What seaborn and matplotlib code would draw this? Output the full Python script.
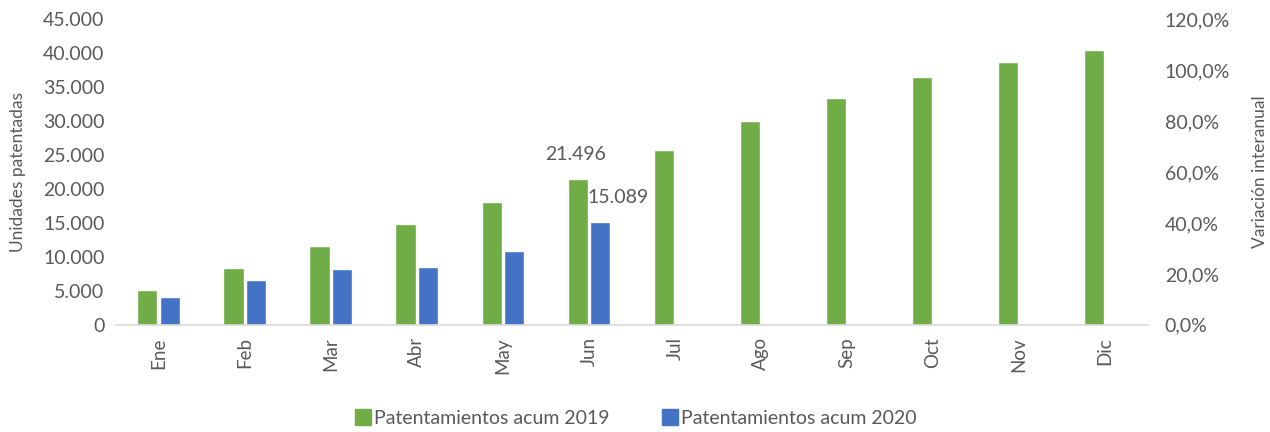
import matplotlib

matplotlib.use("Agg")

import matplotlib.pyplot as plt
import numpy as np
import pandas as pd
import seaborn as sns
from matplotlib.lines import Line2D
from matplotlib.ticker import FuncFormatter

MESES = ["Ene", "Feb", "Mar", "Abr", "May", "Jun", "Jul", "Ago", "Sep", "Oct", "Nov", "Dic"]
ACUM_2019 = [5100, 8350, 11600, 14800, 18100, 21496, 25700, 30000, 33400, 36400, 38700, 40500]
ACUM_2020 = [4100, 6550, 8200, 8550, 10850, 15089, np.nan, np.nan, np.nan, np.nan, np.nan, np.nan]
SERIES = ["Patentamientos acum 2019", "Patentamientos acum 2020"]

GREEN = "#70AD47"
BLUE = "#4472C4"
TEXT = "#595959"


def miles(value: float, _pos=None) -> str:
    return f"{value:,.0f}".replace(",", ".")


def build_df() -> pd.DataFrame:
    df = pd.DataFrame(
        {
            "mes": MESES * 2,
            "unidades": ACUM_2019 + ACUM_2020,
            "serie": [SERIES[0]] * len(MESES) + [SERIES[1]] * len(MESES),
        }
    )
    return df.dropna()


sns.set_style("white")
plt.rcParams["font.family"] = ["Lato", "DejaVu Sans"]

fig = plt.figure(figsize=(12.7, 4.32), dpi=100)
ax = fig.add_axes([0.091, 0.248, 0.813, 0.708])

df = build_df()
sns.barplot(
    data=df,
    x="mes",
    y="unidades",
    hue="serie",
    hue_order=SERIES,
    order=MESES,
    palette=[GREEN, BLUE],
    width=0.52,
    gap=0.1,
    saturation=1,
    legend=False,
    ax=ax,
)

ax.set_xlim(-0.5, len(MESES) - 0.5)
ax.set_ylim(0, 45000)
ax.set_yticks(np.arange(0, 45001, 5000))
ax.yaxis.set_major_formatter(FuncFormatter(miles))
ax.tick_params(axis="y", length=0, labelsize=14, labelcolor=TEXT, pad=8)
ax.tick_params(axis="x", length=0, labelsize=13.5, labelcolor=TEXT, rotation=90, pad=9)
ax.set_xlabel("")
ax.set_ylabel("Unidades patentadas", fontsize=12.5, color=TEXT, labelpad=12)
for side in ["top", "left", "right"]:
    ax.spines[side].set_visible(False)
ax.spines["bottom"].set_color("#D9D9D9")
ax.spines["bottom"].set_linewidth(1.2)

# etiquetas de Jun
jun = MESES.index("Jun")
bar19 = ax.containers[0][jun]
bar20 = ax.containers[1][jun]
ax.annotate(
    miles(bar19.get_height()),
    (bar19.get_x() + bar19.get_width() / 2, bar19.get_height()),
    xytext=(-2, 24),
    textcoords="offset pixels",
    ha="center",
    va="center",
    fontsize=14,
    color=TEXT,
)
ax.annotate(
    miles(bar20.get_height()),
    (bar20.get_x() + bar20.get_width() / 2, bar20.get_height()),
    xytext=(18, 25),
    textcoords="offset pixels",
    ha="center",
    va="center",
    fontsize=14,
    color=TEXT,
)

ax2 = ax.twinx()
ax2.set_ylim(0, 1.2)
ax2.set_yticks(np.arange(0, 1.21, 0.2))
ax2.yaxis.set_major_formatter(FuncFormatter(lambda v, _p: f"{v * 100:.1f}%".replace(".", ",")))
ax2.tick_params(axis="y", length=0, labelsize=14, labelcolor=TEXT, pad=12)
ax2.set_ylabel("Variación interanual", fontsize=12.5, color=TEXT, labelpad=16)
for side in ["top", "left", "right", "bottom"]:
    ax2.spines[side].set_visible(False)

handles = [
    Line2D([], [], marker="s", linestyle="", markersize=11, color=color)
    for color in [GREEN, BLUE]
]
fig.legend(
    handles,
    SERIES,
    loc="center",
    bbox_to_anchor=(0.5, 0.032),
    ncol=2,
    frameon=False,
    fontsize=14,
    labelcolor=TEXT,
    handletextpad=0.05,
    columnspacing=2.6,
    handlelength=1.0,
)

fig.savefig("out.png", dpi=100)
